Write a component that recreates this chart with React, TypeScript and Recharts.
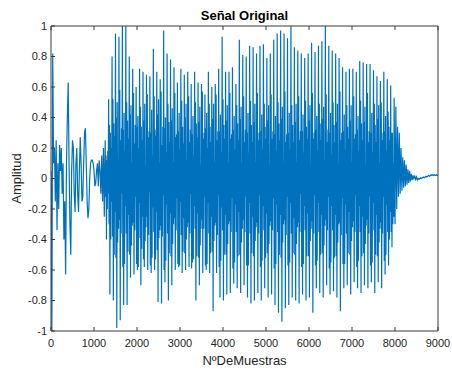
import { LineChart, Line, XAxis, YAxis, Label } from 'recharts'

// muestras 0..1240, cada 20
const inicio = [
	0.05, -1.0, 0.82, 0.1, 0.2, -0.15, 0.25, -0.34, 0.1, -0.2,
	0.22, 0.05, 0.2, -0.1, 0.1, -0.4, -0.15, -0.63, 0.1, 0.4,
	0.63, 0.1, -0.3, -0.5, 0.05, 0.25, 0.2, -0.1, -0.22, 0.1,
	0.2, -0.1, -0.22, 0.05, 0.27, 0.1, -0.15, -0.12, 0.1, 0.3,
	0.33, 0.1, -0.15, -0.26, -0.2, 0.0, 0.1, 0.12, 0.12, 0.1,
	0.05, -0.05, -0.03, 0.05, 0.1, -0.05, 0.12, 0.05, -0.1, 0.15,
	-0.15, 0.2, -0.25,
]

// tramo sonoro desde 1260, cada 10 muestras (un periodo = 8 valores: pico ... valle ...)
const periodos = [
	[0.25, -0.12, 0.15, -0.4, 0.12, -0.2, 0.18, -0.1],
	[0.52, -0.3, 0.35, -0.76, 0.3, -0.4, 0.2, -0.15],
	[0.8, -0.38, 0.52, -0.8, 0.36, -0.5, 0.28, -0.22],
	[0.95, -0.52, 0.4, -0.98, 0.5, -0.42, 0.12, -0.33],
	[0.93, -0.27, 0.58, -0.93, 0.25, -0.36, 0.33, -0.1],
	[1.0, -0.58, 0.32, -0.83, 0.43, -0.56, 0.18, -0.18],
	[1.0, -0.36, 0.5, -0.83, 0.38, -0.48, 0.26, -0.24],
	[0.8, -0.5, 0.42, -0.65, 0.48, -0.44, 0.1, -0.31],
	[0.72, -0.29, 0.56, -0.63, 0.23, -0.34, 0.35, -0.12],
	[0.6, -0.56, 0.34, -0.6, 0.41, -0.58, 0.2, -0.16],
	[0.72, -0.39, 0.47, -0.7, 0.34, -0.46, 0.25, -0.25],
	[0.7, -0.53, 0.38, -0.58, 0.49, -0.41, 0.08, -0.32],
	[0.68, -0.25, 0.55, -0.6, 0.27, -0.37, 0.31, -0.09],
	[0.67, -0.57, 0.3, -0.62, 0.45, -0.52, 0.15, -0.19],
	[0.85, -0.35, 0.54, -0.6, 0.32, -0.53, 0.28, -0.22],
	[0.7, -0.47, 0.42, -0.81, 0.52, -0.39, 0.1, -0.34],
	[0.65, -0.31, 0.57, -0.82, 0.22, -0.38, 0.34, -0.11],
	[0.97, -0.6, 0.33, -0.68, 0.4, -0.54, 0.17, -0.17],
	[0.82, -0.36, 0.49, -0.8, 0.37, -0.49, 0.24, -0.23],
	[0.78, -0.51, 0.38, -0.7, 0.46, -0.43, 0.11, -0.3],
	[0.73, -0.26, 0.56, -0.6, 0.27, -0.34, 0.29, -0.13],
	[0.63, -0.56, 0.31, -0.58, 0.43, -0.57, 0.19, -0.15],
	[0.72, -0.37, 0.51, -0.62, 0.34, -0.48, 0.23, -0.26],
	[0.68, -0.49, 0.4, -0.6, 0.49, -0.4, 0.12, -0.32],
	[0.7, -0.29, 0.54, -0.58, 0.24, -0.36, 0.32, -0.1],
	[0.62, -0.59, 0.29, -0.55, 0.41, -0.53, 0.15, -0.18],
	[0.7, -0.33, 0.5, -0.8, 0.36, -0.51, 0.27, -0.23],
	[0.63, -0.52, 0.37, -0.7, 0.47, -0.44, 0.09, -0.33],
	[0.62, -0.27, 0.57, -0.62, 0.26, -0.33, 0.3, -0.12],
	[0.55, -0.57, 0.33, -0.6, 0.43, -0.56, 0.2, -0.16],
	[0.7, -0.36, 0.49, -0.62, 0.34, -0.49, 0.24, -0.25],
	[0.6, -0.48, 0.39, -0.87, 0.49, -0.41, 0.11, -0.31],
	[0.62, -0.29, 0.55, -0.62, 0.25, -0.37, 0.31, -0.11],
	[0.72, -0.58, 0.31, -0.78, 0.42, -0.54, 0.17, -0.19],
	[0.93, -0.34, 0.52, -0.8, 0.35, -0.5, 0.26, -0.24],
	[0.7, -0.5, 0.38, -0.76, 0.48, -0.43, 0.1, -0.3],
	[0.7, -0.28, 0.56, -0.75, 0.26, -0.35, 0.29, -0.13],
	[0.73, -0.59, 0.32, -0.69, 0.41, -0.55, 0.19, -0.17],
	[0.62, -0.35, 0.48, -0.72, 0.36, -0.51, 0.25, -0.22],
	[0.91, -0.5, 0.39, -0.75, 0.47, -0.42, 0.1, -0.33],
	[0.81, -0.27, 0.54, -0.7, 0.24, -0.35, 0.32, -0.12],
	[0.8, -0.57, 0.3, -0.78, 0.43, -0.57, 0.17, -0.16],
	[0.87, -0.36, 0.51, -0.82, 0.35, -0.49, 0.24, -0.25],
	[0.86, -0.51, 0.37, -0.8, 0.49, -0.41, 0.11, -0.32],
	[0.82, -0.29, 0.56, -0.75, 0.25, -0.36, 0.3, -0.11],
	[0.87, -0.58, 0.31, -0.8, 0.42, -0.54, 0.19, -0.18],
	[0.88, -0.34, 0.49, -0.72, 0.34, -0.52, 0.26, -0.23],
	[0.79, -0.49, 0.38, -0.78, 0.48, -0.43, 0.09, -0.31],
	[0.82, -0.28, 0.55, -0.76, 0.26, -0.34, 0.31, -0.13],
	[0.91, -0.59, 0.29, -0.83, 0.41, -0.56, 0.18, -0.17],
	[0.95, -0.35, 0.5, -0.88, 0.36, -0.5, 0.25, -0.24],
	[0.97, -0.52, 0.39, -0.94, 0.47, -0.42, 0.1, -0.3],
	[0.95, -0.27, 0.57, -0.85, 0.24, -0.37, 0.29, -0.12],
	[0.92, -0.57, 0.3, -0.83, 0.43, -0.55, 0.19, -0.16],
	[1.0, -0.36, 0.48, -0.78, 0.35, -0.49, 0.24, -0.26],
	[0.86, -0.5, 0.37, -0.8, 0.49, -0.43, 0.11, -0.32],
	[0.84, -0.29, 0.54, -0.82, 0.25, -0.35, 0.31, -0.1],
	[0.82, -0.58, 0.31, -0.76, 0.42, -0.56, 0.17, -0.18],
	[0.79, -0.34, 0.51, -0.8, 0.34, -0.51, 0.26, -0.23],
	[0.82, -0.51, 0.38, -0.78, 0.48, -0.41, 0.09, -0.33],
	[0.89, -0.28, 0.56, -0.88, 0.26, -0.36, 0.3, -0.11],
	[0.83, -0.57, 0.32, -0.72, 0.41, -0.54, 0.18, -0.16],
	[0.87, -0.35, 0.49, -0.75, 0.36, -0.5, 0.25, -0.24],
	[0.9, -0.49, 0.39, -0.78, 0.47, -0.44, 0.12, -0.31],
	[1.0, -0.27, 0.55, -0.7, 0.24, -0.34, 0.32, -0.12],
	[0.87, -0.59, 0.3, -0.76, 0.43, -0.55, 0.16, -0.18],
	[0.84, -0.34, 0.5, -0.74, 0.35, -0.52, 0.24, -0.24],
	[0.82, -0.51, 0.37, -0.78, 0.49, -0.42, 0.1, -0.3],
	[0.79, -0.29, 0.57, -0.87, 0.25, -0.37, 0.3, -0.13],
	[0.73, -0.56, 0.31, -0.72, 0.42, -0.56, 0.19, -0.17],
	[0.7, -0.36, 0.48, -0.7, 0.34, -0.49, 0.26, -0.22],
	[0.72, -0.5, 0.38, -0.76, 0.48, -0.41, 0.11, -0.32],
	[0.72, -0.28, 0.54, -0.68, 0.26, -0.35, 0.29, -0.11],
	[0.7, -0.58, 0.32, -0.72, 0.41, -0.54, 0.18, -0.18],
	[0.77, -0.35, 0.51, -0.75, 0.36, -0.51, 0.25, -0.25],
	[0.76, -0.49, 0.37, -0.7, 0.47, -0.43, 0.09, -0.31],
	[0.75, -0.27, 0.56, -0.72, 0.24, -0.36, 0.31, -0.12],
	[0.75, -0.57, 0.3, -0.68, 0.43, -0.55, 0.17, -0.16],
	[0.71, -0.34, 0.49, -0.75, 0.35, -0.5, 0.24, -0.24],
	[0.67, -0.51, 0.39, -0.68, 0.48, -0.42, 0.1, -0.33],
	[0.64, -0.29, 0.5, -0.72, 0.25, -0.36, 0.3, -0.12],
	[0.7, -0.54, 0.31, -0.63, 0.41, -0.5, 0.18, -0.17],
	[0.65, -0.35, 0.44, -0.57, 0.34, -0.4, 0.25, -0.22],
	[0.61, -0.35, 0.3, -0.45, 0.3, -0.3, 0.1, -0.25],
]

// cola desde 7980, cada 20
const cola = [
	0.53, -0.3, 0.47, -0.2, 0.34, -0.12, 0.3, -0.1, 0.2, -0.08,
	0.14, -0.06, 0.12, -0.05, 0.09, -0.04, 0.06, -0.03, 0.05, -0.02,
	0.03, -0.01, 0.02, 0.0, 0.015, -0.005, 0.01, -0.01, 0.0, -0.005,
	0.0, 0.005, 0.0, 0.005, 0.01, 0.005, 0.01, 0.015, 0.01, 0.015,
	0.02, 0.015, 0.02, 0.025, 0.02, 0.025, 0.02, 0.025, 0.02, 0.025,
	0.02, 0.02,
]

const xTicks = [0, 1000, 2000, 3000, 4000, 5000, 6000, 7000, 8000, 9000]
const yTicks = [-1, -0.8, -0.6, -0.4, -0.2, 0, 0.2, 0.4, 0.6, 0.8, 1]

const data = [
	...inicio.map((v, i) => ({ n: i * 20, amplitud: v })),
	...periodos.flat().map((v, i) => ({ n: 1260 + i * 10, amplitud: v })),
	...cola.map((v, i) => ({ n: 7980 + i * 20, amplitud: v })),
]

const ejeColor = '#3a3a3a'
const textoColor = '#262626'
const blank = () => ''

export default function App() {
	return (
		<div
			style={{
				position: 'absolute',
				left: 0,
				top: 0,
				width: 452,
				height: 369,
				background: '#fff',
			}}
		>
			<LineChart
				width={452}
				height={369}
				data={data}
				margin={{ top: 24, right: 12, bottom: 4, left: 11 }}
				style={{ fontFamily: '"Liberation Sans", Arial, sans-serif' }}
			>
				<XAxis
					dataKey="n"
					type="number"
					domain={[0, 9000]}
					ticks={xTicks}
					interval={0}
					allowDataOverflow
					height={34}
					tickSize={-4}
					tickMargin={12}
					stroke={ejeColor}
					tick={{ fill: textoColor, fontSize: 11 }}
				>
					<Label
						value="NºDeMuestras"
						position="insideBottom"
						offset={0}
						style={{ fontSize: 13, fill: textoColor }}
					/>
				</XAxis>
				<XAxis
					xAxisId="top"
					orientation="top"
					dataKey="n"
					type="number"
					domain={[0, 9000]}
					ticks={xTicks}
					interval={0}
					height={2}
					tickSize={-4}
					stroke={ejeColor}
					tickFormatter={blank}
				>
					<Label
						value="Señal Original"
						position="top"
						offset={4.5}
						style={{ fontSize: 13, fontWeight: 'bold', fill: '#000' }}
					/>
				</XAxis>
				<YAxis
					type="number"
					domain={[-1, 1]}
					ticks={yTicks}
					interval={0}
					width={40}
					tickSize={-4}
					tickMargin={8}
					stroke={ejeColor}
					tick={{ fill: textoColor, fontSize: 11 }}
				>
					<Label
						value="Amplitud"
						angle={-90}
						position="insideLeft"
						offset={5}
						style={{ textAnchor: 'middle', fontSize: 13, fill: textoColor }}
					/>
				</YAxis>
				<YAxis
					yAxisId="right"
					orientation="right"
					type="number"
					domain={[-1, 1]}
					ticks={yTicks}
					interval={0}
					width={2}
					tickSize={-4}
					stroke={ejeColor}
					tickFormatter={blank}
				/>
				<Line
					type="linear"
					dataKey="amplitud"
					stroke="#0072BD"
					strokeWidth={1.2}
					dot={false}
					activeDot={false}
					isAnimationActive={false}
				/>
			</LineChart>
		</div>
	)
}
